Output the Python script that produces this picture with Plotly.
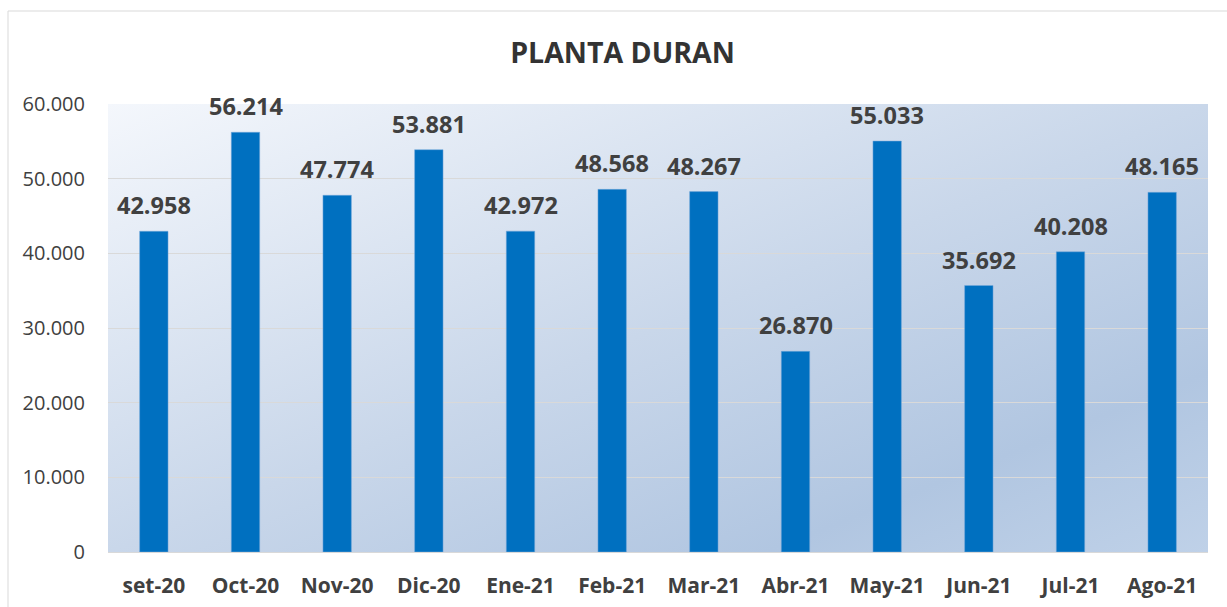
import base64
import plotly.graph_objects as go

# ---- data ----
categories = ["set-20", "Oct-20", "Nov-20", "Dic-20", "Ene-21", "Feb-21",
              "Mar-21", "Abr-21", "May-21", "Jun-21", "Jul-21", "Ago-21"]
values = [42958, 56214, 47774, 53881, 42972, 48568,
          48267, 26870, 55033, 35692, 40208, 48165]
y_ticks = [0, 10000, 20000, 30000, 40000, 50000, 60000]
title_text = "PLANTA DURAN"

# ---- styling ----
W, H = 1227, 607
L, R, T, B = 108, 19, 104, 55
FONT = "Open Sans"
TXT = "#404040"
BAR = "#0070C0"

svg = (
    '<svg xmlns="http://www.w3.org/2000/svg" width="1100" height="448" '
    'preserveAspectRatio="none" viewBox="0 0 1100 448">'
    '<defs><linearGradient id="g" x1="0" y1="0" x2="1" y2="1">'
    '<stop offset="0" stop-color="#f4f7fc"/>'
    '<stop offset="0.5" stop-color="#c9d7ea"/>'
    '<stop offset="0.8" stop-color="#b1c6e1"/>'
    '<stop offset="1" stop-color="#bfd1e8"/>'
    '</linearGradient></defs>'
    '<rect x="0" y="0" width="1100" height="448" fill="url(#g)"/></svg>'
)
svg_uri = "data:image/svg+xml;base64," + base64.b64encode(svg.encode()).decode()

fig = go.Figure()
fig.add_trace(go.Bar(
    x=categories, y=values,
    marker=dict(color=BAR, line=dict(color="rgba(120,170,220,0.5)", width=1)),
    width=0.31,
    hoverinfo="x+y",
))

def fmt(v):
    return f"{v:,}".replace(",", ".")

annotations = []
for c, v in zip(categories, values):
    annotations.append(dict(
        x=c, y=v, xref="x", yref="y", text=fmt(v), showarrow=False,
        yanchor="bottom", yshift=8,
        font=dict(family=FONT, size=23.5, color=TXT, weight="bold"),
    ))

plot_w = W - L - R
plot_h = H - T - B

fig.update_layout(
    width=W, height=H,
    margin=dict(l=L, r=R, t=T, b=B, pad=0, autoexpand=False),
    paper_bgcolor="white",
    plot_bgcolor="#d0dcec",
    separators=",.",
    showlegend=False,
    title=dict(
        text=title_text, x=622.5 / W, xanchor="center",
        y=1 - 53 / H, yanchor="middle", xref="container", yref="container",
        font=dict(family=FONT, size=28.5, color="#333333", weight="bold"),
    ),
    xaxis=dict(
        type="category", showgrid=False, showline=True, automargin=False,
        linecolor="#d9d9d9", linewidth=1,
        ticks="outside", ticklen=15, tickcolor="rgba(0,0,0,0)",
        tickfont=dict(family=FONT, size=21, color=TXT, weight="bold"),
        fixedrange=True,
    ),
    yaxis=dict(
        range=[0, 60000], tickvals=y_ticks, tickformat=",d", automargin=False,
        showgrid=True, gridcolor="#d9d9d9", gridwidth=1,
        zeroline=False, showline=False,
        ticks="outside", ticklen=18, tickcolor="rgba(0,0,0,0)",
        tickfont=dict(family=FONT, size=20, color=TXT),
        fixedrange=True,
    ),
    annotations=annotations,
    images=[dict(
        source=svg_uri, xref="paper", yref="paper", x=0, y=1,
        sizex=1, sizey=1, sizing="stretch", xanchor="left", yanchor="top",
        layer="below",
    )],
    shapes=[dict(
        type="rect", xref="paper", yref="paper",
        x0=(8 - L) / plot_w, x1=(W + 20 - L) / plot_w,
        y0=(H - B - (H + 20)) / plot_h, y1=(H - B - 11) / plot_h,
        line=dict(color="#d9d9d9", width=1), fillcolor="rgba(0,0,0,0)",
        layer="below",
    )],
)

fig.write_html(
    "out.html",
    config={"displayModeBar": False},
    post_script="document.body.style.margin='0';document.body.style.padding='0';",
)
